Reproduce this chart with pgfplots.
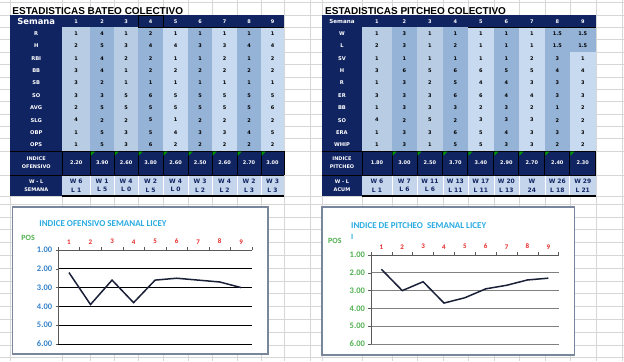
\documentclass[border=0pt]{standalone}
\usepackage{pgfplots}
\pgfplotsset{compat=1.18}
\usepackage{fontspec}
\setmainfont{Carlito}
\newfontfamily\arialfont{Liberation Sans}
\newfontfamily\tabfont{DejaVu Sans}
\definecolor{navy}{RGB}{16,36,98}
\definecolor{lightA}{RGB}{184,204,228}
\definecolor{darkB}{RGB}{149,179,215}
\definecolor{lightC}{RGB}{200,218,240}
\definecolor{wlbg}{RGB}{197,213,236}
\definecolor{gridc}{RGB}{214,214,214}
\definecolor{titlec}{RGB}{41,171,226}
\definecolor{posgreen}{RGB}{80,176,80}
\definecolor{tickblue}{RGB}{52,130,200}
\definecolor{redlab}{RGB}{230,40,40}
\definecolor{linec}{RGB}{25,32,55}
\definecolor{boxc}{RGB}{120,135,155}
\pgfplotsset{chartstyle/.style={
  scale only axis, xmin=0.5, xmax=9.5, ymin=1, ymax=6, y dir=reverse,
  axis x line*=top, axis y line*=left,
  xtick={1,...,9}, xticklabels={1,2,3,4,5,6,7,8,9},
  minor xtick={0.5,1.5,...,9.5},
  ytick={1,...,6}, tick align=outside,
  major x tick style={draw=none},
  minor tick length=3pt, major tick length=2.5pt,
  ymajorgrids,
  axis line style={draw=gray!70!black, line width=0.7pt},
  tick style={draw=gray!70!black, line width=0.6pt},
  /pgf/number format/fixed, /pgf/number format/fixed zerofill,
  /pgf/number format/precision=2, /pgf/number format/assume math mode=true,
  xticklabel style={font=\bfseries\fontsize{7}{8}\selectfont, text=redlab},
}}
\begin{document}
\begin{tikzpicture}[
  celltext/.style={font=\tabfont\bfseries\fontsize{5}{6}\selectfont, text=black, inner sep=0pt},
  rowlab/.style={font=\tabfont\bfseries\fontsize{5.2}{6}\selectfont, text=white, inner sep=0pt},
  idx/.style={font=\tabfont\bfseries\fontsize{5}{6}\selectfont, text=white, inner sep=0pt},
  wl/.style={font=\tabfont\bfseries\fontsize{6}{8.5}\selectfont, text=navy, inner sep=0pt, align=center},
  twolab/.style={font=\tabfont\bfseries\fontsize{5}{7.5}\selectfont, text=white, inner sep=0pt, align=center},
]
\begin{scope}[x=1pt,y=-1pt]
\fill[white] (0,0) rectangle (624,361);
% spreadsheet grid
\foreach \x in {10,62,90,114,138,163,188,212,237,261,284,310,322,362,392,417,443,468,494,519,545,570,596,622}
  \draw[gridc, line width=0.5pt] (\x,0) -- (\x,361);
\foreach \k in {0,...,12}
  \draw[gridc, line width=0.5pt] (0,{2.2+12.4*\k}) -- (624,{2.2+12.4*\k});
\foreach \y in {175,196}
  \draw[gridc, line width=0.5pt] (0,\y) -- (624,\y);
\foreach \k in {0,...,12}
  \draw[gridc, line width=0.5pt] (0,{204+12.8*\k}) -- (624,{204+12.8*\k});

% titles
\node[anchor=base west, font=\arialfont\bfseries\fontsize{10}{12}\selectfont, inner sep=0pt] at (12,14) {ESTADISTICAS BATEO COLECTIVO};
\node[anchor=base west, font=\arialfont\bfseries\fontsize{10}{12}\selectfont, inner sep=0pt] at (325,14) {ESTADISTICAS PITCHEO COLECTIVO};

% ================= LEFT TABLE =================
\def\LX{{76,102,126,150.5,175.5,200,224.5,249,272.5}}
\fill[navy] (10,15) rectangle (284,27);
\fill[navy] (10,27) rectangle (62,196);
\foreach \a/\b/\c in {62/90/lightA,90/114/darkB,114/138/lightA,138/163/darkB,163/188/lightC,188/212/darkB,212/237/lightC,237/261/darkB,261/284/lightC}
  \fill[\c] (\a,27) rectangle (\b,151);
\fill[navy] (62,151) rectangle (284,175);
\fill[wlbg] (62,175) rectangle (284,196);
\draw[black, line width=0.9pt] (10,151) -- (284,151);
\draw[black, line width=0.9pt] (10,175) -- (284,175);
\foreach \x in {62,90,114,138,163,188,212,237,261,284}
  \draw[black, line width=0.8pt] (\x,151) -- (\x,175);
\foreach \x in {90,114,138,163,188,212,237,261}
  \draw[white, line width=0.6pt] (\x,175.5) -- (\x,195);
\draw[black, line width=0.8pt] (138,15) rectangle (163,27);
\draw[black, line width=0.8pt] (163,27) -- (284,27);
\draw[black, line width=1.8pt] (62,196) -- (284,196);
\foreach \x in {90,114,138,163,188,212,237,261}
  \fill[green!60!black] (\x+0.6,151.6) -- ++(4,0) -- ++(-4,4) -- cycle;
\node[font=\tabfont\bfseries\fontsize{8.4}{9}\selectfont, text=white, inner sep=0pt] at (36,21) {Semana};
\foreach \c in {0,...,8} {
  \pgfmathsetmacro\xc{\LX[\c]}
  \pgfmathtruncatemacro\n{\c+1}
  \node[idx] at (\xc,21) {\n};
}
\foreach \lab/\vals [count=\r from 0] in {
  R/{1,4,1,2,1,1,1,1,1},
  H/{2,5,3,4,4,3,3,4,4},
  RBI/{1,4,2,2,1,1,2,1,2},
  BB/{3,4,1,2,2,2,2,2,2},
  SB/{3,2,1,1,1,1,1,1,1},
  SO/{3,3,5,6,5,5,5,5,5},
  AVG/{2,5,5,5,5,5,5,5,6},
  SLG/{4,2,2,5,1,2,2,2,2},
  OBP/{1,5,3,5,4,3,3,4,5},
  OPS/{1,5,3,6,2,2,2,2,2}} {
  \node[rowlab] at (36,{27+12.4*(\r+0.5)}) {\lab};
  \foreach \v [count=\c from 0] in \vals {
    \pgfmathsetmacro\xc{\LX[\c]}
    \node[celltext] at (\xc,{27+12.4*(\r+0.5)}) {\v};
  }
}
\node[twolab] at (36,162.5) {INDICE\\OFENSIVO};
\foreach \v [count=\c from 0] in {2.20,3.90,2.60,3.80,2.60,2.50,2.60,2.70,3.00} {
  \pgfmathsetmacro\xc{\LX[\c]}
  \node[idx] at (\xc,163) {\v};
}
\node[twolab] at (36,185.5) {W - L\\SEMANA};
\foreach \w/\l [count=\c from 0] in {6/1,1/5,4/0,2/5,4/0,3/2,4/2,2/3,3/3} {
  \pgfmathsetmacro\xc{\LX[\c]}
  \node[wl] at (\xc,185.5) {W \w\\L \l};
}

% ================= RIGHT TABLE =================
\def\RX{{377,404.5,430,455.5,481,506.5,532,557.5,583}}
\fill[navy] (322,15) rectangle (596,27);
\fill[navy] (322,27) rectangle (362,196);
\foreach \a/\b/\c in {362/392/lightA,392/417/darkB,417/443/lightA,443/468/darkB,468/494/lightC,494/519/darkB,519/545/lightC,545/570/darkB,570/596/lightC}
  \fill[\c] (\a,27) rectangle (\b,151);
\fill[darkB] (570,27) rectangle (596,51.8);
\fill[navy] (362,151) rectangle (596,175);
\fill[wlbg] (362,175) rectangle (596,196);
\draw[black, line width=0.9pt] (322,151) -- (596,151);
\draw[black, line width=0.9pt] (322,175) -- (596,175);
\foreach \x in {362,392,417,443,468,494,519,545,570,596}
  \draw[black, line width=0.8pt] (\x,151) -- (\x,175);
\foreach \x in {392,417,443,468,494,519,545,570}
  \draw[white, line width=0.6pt] (\x,175.5) -- (\x,195);
\draw[black, line width=0.8pt] (468,27) -- (596,27);
\draw[black, line width=1.8pt] (362,196) -- (596,196);
\foreach \x in {392,417,443,468,494,519,545,570}
  \fill[green!60!black] (\x+0.6,151.6) -- ++(4,0) -- ++(-4,4) -- cycle;
\node[font=\tabfont\bfseries\fontsize{5.6}{6}\selectfont, text=white, inner sep=0pt] at (342,21) {Semana};
\foreach \c in {0,...,8} {
  \pgfmathsetmacro\xc{\RX[\c]}
  \pgfmathtruncatemacro\n{\c+1}
  \node[idx] at (\xc,21) {\n};
}
\foreach \lab/\vals [count=\r from 0] in {
  W/{1,3,1,1,1,1,1,1.5,1.5},
  L/{2,3,1,2,1,1,1,1.5,1.5},
  SV/{1,1,1,1,1,1,2,3,1},
  H/{3,6,5,6,6,5,5,4,4},
  R/{1,3,2,5,4,4,3,3,3},
  ER/{3,3,3,6,6,4,4,3,3},
  BB/{1,3,3,3,2,3,2,1,2},
  SO/{4,2,5,2,3,3,3,2,2},
  ERA/{1,3,3,6,5,4,3,3,3},
  WHIP/{1,3,1,5,5,3,3,2,2}} {
  \node[rowlab] at (342,{27+12.4*(\r+0.5)}) {\lab};
  \foreach \v [count=\c from 0] in \vals {
    \pgfmathsetmacro\xc{\RX[\c]}
    \node[celltext] at (\xc,{27+12.4*(\r+0.5)}) {\v};
  }
}
\node[twolab] at (342,162.5) {INDICE\\PITCHEO};
\foreach \v [count=\c from 0] in {1.80,3.00,2.50,3.70,3.40,2.90,2.70,2.40,2.30} {
  \pgfmathsetmacro\xc{\RX[\c]}
  \node[idx] at (\xc,163) {\v};
}
\node[twolab] at (342,185.5) {W - L\\ACUM};
\foreach \w/\l [count=\c from 0] in {W 6/L 1,W 7/L 6,W 11/L 6,W 13/L 11,W 17/L 11,W 20/L 13,W/24,W 26/L 18,W 29/L 21} {
  \pgfmathsetmacro\xc{\RX[\c]}
  \node[wl] at (\xc,185.5) {\w\\\l};
}

% ================= CHART BOXES =================
\filldraw[fill=white, draw=boxc, line width=1.2pt] (12,207) rectangle (268,354);
\filldraw[fill=white, draw=boxc, line width=1.2pt] (322,207) rectangle (575,355);
\node[font=\bfseries\fontsize{9}{10}\selectfont, text=titlec, anchor=west, inner sep=0pt] at (39,224) {INDICE OFENSIVO SEMANAL LICEY};
\node[font=\bfseries\fontsize{8}{9}\selectfont, text=posgreen, anchor=west, inner sep=0pt] at (21,238) {POS};
\node[font=\bfseries\fontsize{9}{10}\selectfont, text=titlec, anchor=west, inner sep=0pt] at (351,226) {INDICE DE PITCHEO\ \ SEMANAL LICEY};
\node[font=\bfseries\fontsize{8}{9}\selectfont, text=titlec, anchor=west, inner sep=0pt] at (351,237) {I};
\node[font=\bfseries\fontsize{8}{9}\selectfont, text=posgreen, anchor=west, inner sep=0pt] at (328,241) {POS};
\path (0,0) rectangle (624,361);
\end{scope}

\begin{axis}[chartstyle,
  at={(58pt,-344pt)}, anchor=south west, width=194pt, height=94pt,
  grid style={black, line width=0.9pt},
  yticklabel style={font=\bfseries\fontsize{8.5}{9}\selectfont, text=tickblue},
]
\addplot[linec, line width=1.5pt] coordinates {(1,2.2)(2,3.9)(3,2.6)(4,3.8)(5,2.6)(6,2.5)(7,2.6)(8,2.7)(9,3.0)};
\end{axis}

\begin{axis}[chartstyle,
  at={(371pt,-344pt)}, anchor=south west, width=188pt, height=89pt,
  grid style={gray, line width=0.8pt},
  yticklabel style={font=\bfseries\fontsize{8.5}{9}\selectfont, text=posgreen},
]
\addplot[linec, line width=1.5pt] coordinates {(1,1.8)(2,3.0)(3,2.5)(4,3.7)(5,3.4)(6,2.9)(7,2.7)(8,2.4)(9,2.3)};
\end{axis}
\end{tikzpicture}
\end{document}
